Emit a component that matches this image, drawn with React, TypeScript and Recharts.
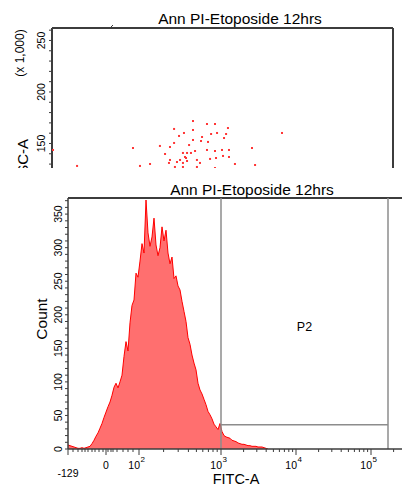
import React from 'react'
import {
  ScatterChart,
  Scatter,
  AreaChart,
  Area,
  XAxis,
  YAxis,
  ReferenceLine,
  ReferenceArea,
} from 'recharts'

const TITLE = 'Ann PI-Etoposide 12hrs'
const FONT = '"Liberation Sans", Arial, sans-serif'
const AXIS = '#3c3c3c'
const GATE = '#8c8c8c'

// SSC-A (x 1,000) against FITC-A display channel, one entry per event
const dotCh = [
  0.6, 14.7, 47.5, 51.6, 57.5, 63.3, 66.3, 69.2, 71.6, 71.6, 69.2, 68.6, 72.1,
  74.5, 77.4, 82.7, 82.7, 82.7, 79.2, 76.8, 78.0, 75.1, 73.3, 76.8, 79.2, 76.8,
  81.5, 83.9, 85.0, 86.8, 85.0, 88.0, 91.5, 90.9, 95.6, 93.3, 96.8, 100.9,
  103.2, 102.1, 90.9, 92.7, 95.6, 96.2, 99.7, 100.3, 103.8, 103.8, 95.6, 100.3,
  107.3, 117.3, 119.1, 134.9, 87.4, 80.4, 78.6,
]
const dotSsc = [
  143.7, 128.2, 145.6, 128.2, 130.1, 147.6, 139.8, 146.6, 164.1, 150.5, 134.0,
  131.1, 127.2, 157.3, 160.2, 171.8, 163.1, 153.4, 140.8, 140.8, 136.9, 134.0,
  132.0, 131.1, 133.0, 127.2, 140.8, 142.7, 134.0, 131.1, 127.2, 156.3, 151.5,
  168.9, 168.9, 159.2, 160.2, 155.3, 165.0, 159.2, 143.7, 135.0, 142.7, 135.9,
  143.7, 137.9, 143.7, 136.9, 126.2, 125.2, 130.1, 145.6, 129.1, 160.2, 152.4,
  148.5, 135.9,
]

// FITC-A histogram, counts per display channel starting at -129
const counts = [
  6, 5, 4, 3, 2, 1, 1, 2, 1, 2,
  3, 4, 8, 13, 19, 24, 31, 38, 47, 55,
  63, 70, 80, 92, 98, 91, 100, 110, 138, 160,
  146, 188, 214, 222, 262, 256, 280, 306, 292, 371,
  322, 302, 316, 344, 304, 288, 300, 331, 310, 326,
  292, 276, 286, 254, 258, 243, 237, 220, 205, 190,
  166, 156, 140, 128, 118, 98, 88, 82, 74, 66,
  56, 51, 45, 37, 33, 29, 38, 26, 20, 18,
  17, 16, 13, 12, 11, 9, 8, 7, 7, 6,
  5, 5, 4, 4, 4, 3, 3, 3, 2, 1,
  0,
]

// biexponential FITC-A axis: labelled positions and minor ticks, in channels
const fitcMajorCh = [0, 19, 35.5, 76.5, 114, 151.5]
const fitcMajorBase = ['-129', '0', '10', '10', '10', '10']
const fitcMajorExp = ['', '', '2', '3', '4', '5']
const fitcMinorCh = [
  2.5, 5, 7, 8.5, 10, 12, 13.5, 15.5, 17.5, 20, 21.5, 22.5, 24.5, 27.5, 30,
  32.5, 47.8, 55.1, 60.2, 64.2, 67.4, 70.2, 72.5, 74.6, 87.8, 94.4, 99.1,
  102.7, 105.7, 108.2, 110.4, 112.3, 125.3, 131.9, 136.6, 140.2, 143.2, 145.7,
  147.9, 149.8, 162.8,
]

// P2 interval gate
const gateLo = 76.5
const gateHi = 160
const gateLevel = 36

const countTicks = Array.from({ length: 38 }, (_, i) => i * 10)
const sscTicks = Array.from({ length: 14 }, (_, i) => 130 + i * 10)

const dots = dotCh.map((x, i) => ({ x, y: dotSsc[i] }))
const hist = counts.map((count, ch) => ({ ch, count }))

const Dot = (p: any) => (
  <rect x={p.cx - 1} y={p.cy - 1} width={2} height={2} fill="#ff3535" />
)

const SscTick = ({ x, y, payload }: any) => {
  const v = payload.value
  return (
    <g>
      <line x1={x - 3} x2={x} y1={y} y2={y} stroke={AXIS} />
      {v % 50 === 0 && (
        <text
          x={x - 7}
          y={y}
          transform={`rotate(-90 ${x - 7} ${y})`}
          textAnchor="middle"
          fontSize={10.5}
          fontFamily={FONT}
          fill="#000"
        >
          {v}
        </text>
      )}
    </g>
  )
}

const CountTick = ({ x, y, payload }: any) => {
  const v = payload.value
  return (
    <g>
      <line x1={x - 3} x2={x} y1={y} y2={y} stroke={AXIS} />
      {v % 50 === 0 && (
        <text
          x={x - 6}
          y={y}
          transform={`rotate(-90 ${x - 6} ${y})`}
          textAnchor="middle"
          fontSize={10.5}
          fontFamily={FONT}
          fill="#000"
        >
          {v}
        </text>
      )}
    </g>
  )
}

const FitcTick = ({ x, y, payload }: any) => {
  const i = fitcMajorCh.indexOf(payload.value)
  if (i < 0) {
    return <line x1={x} x2={x} y1={y} y2={y + 3} stroke={AXIS} />
  }
  const exp = fitcMajorExp[i]
  return (
    <g fontFamily={FONT} fill="#000">
      <line x1={x} x2={x} y1={y} y2={y + 6} stroke={AXIS} />
      {exp ? (
        // "10" ends on the tick, the exponent sits just right of it
        <text x={x - 10.7} y={y + 20} fontSize={10.5}>
          {fitcMajorBase[i]}
          <tspan dx={0.5} dy={-7} fontSize={8}>
            {exp}
          </tspan>
        </text>
      ) : (
        <text
          x={x}
          y={i === 0 ? y + 28 : y + 20}
          textAnchor="middle"
          fontSize={10.5}
        >
          {fitcMajorBase[i]}
        </text>
      )}
    </g>
  )
}

export default function App() {
  return (
    <div
      style={{
        position: 'absolute',
        left: 0,
        top: 0,
        width: 402,
        height: 487,
        overflow: 'hidden',
        background: '#fff',
        fontFamily: FONT,
      }}
    >
      {/* SSC-A vs FITC-A dot plot, only its upper part is shown */}
      <div
        style={{
          position: 'absolute',
          left: 0,
          top: 0,
          width: 402,
          height: 168,
          overflow: 'hidden',
        }}
      >
        <ScatterChart
          width={402}
          height={300}
          margin={{ top: 28, right: 9, bottom: 2, left: 0 }}
        >
          <XAxis type="number" dataKey="x" domain={[0, 200]} hide allowDataOverflow />
          <YAxis
            type="number"
            dataKey="y"
            domain={[0, 262.1]}
            allowDataOverflow
            width={52}
            ticks={sscTicks}
            interval={0}
            tickSize={0}
            tickMargin={0}
            tickLine={false}
            axisLine={{ stroke: AXIS, strokeWidth: 2 }}
            tick={<SscTick />}
          />
          <ReferenceLine y={262.1} stroke={AXIS} strokeWidth={2} />
          <ReferenceLine x={200} stroke={AXIS} strokeWidth={2} />
          <Scatter data={dots} isAnimationActive={false} shape={<Dot />} />
        </ScatterChart>
        <svg
          width={402}
          height={168}
          style={{ position: 'absolute', left: 0, top: 0, pointerEvents: 'none' }}
          fontFamily={FONT}
        >
          <text x={240} y={24} textAnchor="middle" fontSize={15.5} fill="#000">
            {TITLE}
          </text>
          <line x1={110} y1={28} x2={113} y2={25} stroke={AXIS} strokeWidth={1} />
          <text
            x={24}
            y={53}
            transform="rotate(-90 24 53)"
            textAnchor="middle"
            fontSize={12}
            fill="#000"
          >
            (x 1,000)
          </text>
          <text
            x={28}
            y={139}
            transform="rotate(-90 28 139)"
            textAnchor="end"
            fontSize={15}
            fill="#000"
          >
            SSC-A
          </text>
        </svg>
      </div>

      {/* FITC-A histogram with the P2 gate */}
      <div
        style={{
          position: 'absolute',
          left: 0,
          top: 180,
          width: 402,
          height: 307,
        }}
      >
        <AreaChart
          width={402}
          height={307}
          data={hist}
          margin={{ top: 18, right: 0, bottom: 0, left: 0 }}
        >
          <XAxis
            type="number"
            dataKey="ch"
            domain={[0, 167]}
            allowDataOverflow
            height={38}
            ticks={[...fitcMajorCh, ...fitcMinorCh]}
            interval={0}
            tickSize={0}
            tickMargin={0}
            tickLine={false}
            axisLine={{ stroke: AXIS, strokeWidth: 1.5 }}
            tick={<FitcTick />}
          />
          <YAxis
            type="number"
            domain={[0, 374]}
            allowDataOverflow
            width={68}
            ticks={countTicks}
            interval={0}
            tickSize={0}
            tickMargin={0}
            tickLine={false}
            axisLine={{ stroke: AXIS, strokeWidth: 1.5 }}
            tick={<CountTick />}
          />
          <Area
            type="linear"
            dataKey="count"
            stroke="#ff0000"
            strokeWidth={1}
            fill="#ff6f6f"
            fillOpacity={1}
            isAnimationActive={false}
          />
          <ReferenceLine y={374} stroke={AXIS} strokeWidth={2} />
          <ReferenceLine x={gateLo} stroke={GATE} strokeWidth={1.5} />
          <ReferenceLine x={gateHi} stroke={GATE} strokeWidth={1.5} />
          <ReferenceLine
            segment={[
              { x: gateLo, y: gateLevel },
              { x: gateHi, y: gateLevel },
            ]}
            stroke={GATE}
            strokeWidth={1.5}
          />
          <ReferenceArea
            x1={gateLo}
            x2={gateHi}
            y1={0}
            y2={364}
            fill="none"
            stroke="none"
            label={{
              value: 'P2',
              position: 'center',
              fontSize: 12.5,
              fill: '#000',
              fontFamily: FONT,
            }}
          />
        </AreaChart>
        <svg
          width={402}
          height={307}
          style={{ position: 'absolute', left: 0, top: 0, pointerEvents: 'none' }}
          fontFamily={FONT}
        >
          <text x={252} y={15} textAnchor="middle" fontSize={15.5} fill="#000">
            {TITLE}
          </text>
          <text
            x={47}
            y={139}
            transform="rotate(-90 47 139)"
            textAnchor="middle"
            fontSize={15.5}
            fill="#000"
          >
            Count
          </text>
          <text x={236} y={304} textAnchor="middle" fontSize={14.5} fill="#000">
            FITC-A
          </text>
        </svg>
      </div>
    </div>
  )
}
